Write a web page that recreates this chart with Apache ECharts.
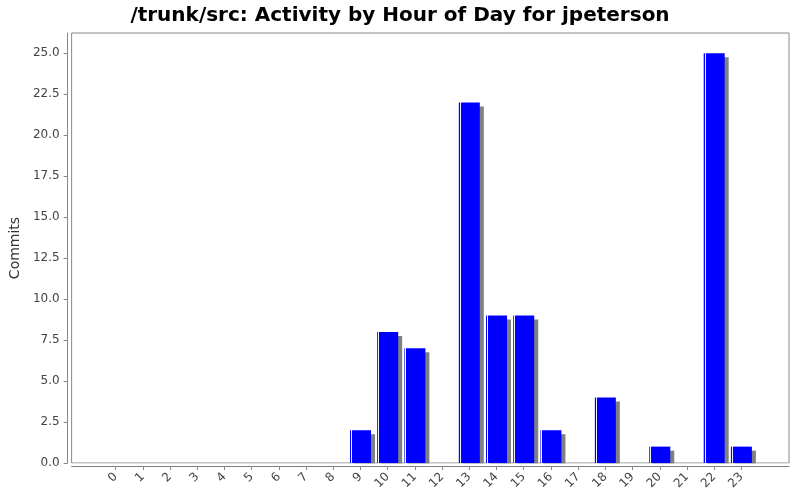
<!DOCTYPE html>
<html><head><meta charset="utf-8">
<script src="https://cdn.jsdelivr.net/npm/echarts@6/dist/echarts.min.js"></script>
<style>html,body{margin:0;padding:0;background:#fff}#c{width:800px;height:500px}</style>
</head><body><div id="c"></div>
<script>
const titleText = "/trunk/src: Activity by Hour of Day for jpeterson";
const yAxisName = "Commits";
const hours = ["0","1","2","3","4","5","6","7","8","9","10","11","12","13","14","15","16","17","18","19","20","21","22","23"];
const commits = [0,0,0,0,0,0,0,0,0,2,8,7,0,22,9,9,2,0,4,0,1,0,25,1];
const yMax = 26.24;
const yStep = 2.5;

const chart = echarts.init(document.getElementById('c'), null, {renderer:'canvas'});
const barColor = {type:'linear', x:0, y:0, x2:1, y2:0, colorStops:[
  {offset:0, color:'#0000ff'},{offset:0.045, color:'#0000ff'},
  {offset:0.05, color:'#f0f0ff'},{offset:0.09, color:'#f0f0ff'},
  {offset:0.095, color:'#0000ff'},{offset:1, color:'#0000ff'}]};
chart.setOption({
  animation:false,
  backgroundColor:'#ffffff',
  title:{text:titleText, left:'center', top:1,
    textStyle:{fontFamily:'DejaVu Sans', fontWeight:'bold', fontSize:20, color:'#000'}},
  grid:[
    {left:70, right:11, top:33, bottom:37, show:true, borderColor:'#888', borderWidth:1, backgroundColor:'#fff'},
    {left:102, right:45, top:33, bottom:37}
  ],
  graphic:[{type:'rect', shape:{x:70, y:463.5, width:720, height:2.5}, style:{fill:'#ffffff'}, z:50, silent:true}],
  xAxis:[
    {gridIndex:0, type:'value', min:0, max:1, offset:3, z:60,
      axisLine:{show:true, onZero:false, lineStyle:{color:'#808080'}}, axisTick:{show:false}, axisLabel:{show:false}, splitLine:{show:false}},
    {gridIndex:1, type:'category', data:hours, offset:3, z:60,
      axisLine:{show:false, onZero:false}, axisTick:{show:true, alignWithLabel:true, length:4, lineStyle:{color:'#888'}},
      axisLabel:{rotate:45, interval:0, margin:9, fontFamily:'DejaVu Sans', fontSize:12, color:'#444'},
      splitLine:{show:false}}
  ],
  yAxis:[
    {gridIndex:0, type:'value', min:0, max:yMax, interval:yStep, offset:4,
      name:yAxisName, nameLocation:'middle', nameGap:41, nameRotate:90,
      nameTextStyle:{fontFamily:'DejaVu Sans', fontSize:14, color:'#333'},
      axisLine:{show:true, onZero:false, lineStyle:{color:'#888'}}, axisTick:{show:true, length:4, lineStyle:{color:'#888'}},
      axisLabel:{formatter:v=>v.toFixed(1), margin:8, fontFamily:'DejaVu Sans', fontSize:12, color:'#444', showMaxLabel:false},
      splitLine:{show:false}},
    {gridIndex:1, type:'value', min:0, max:yMax, interval:yStep, show:false, splitLine:{show:false}}
  ],
  series:[{
    type:'bar', xAxisIndex:1, yAxisIndex:1, data:commits, barWidth:21,
    itemStyle:{color:barColor,
      shadowColor:'#808080', shadowOffsetX:4, shadowOffsetY:4, shadowBlur:0}
  }]
});
</script></body></html>
